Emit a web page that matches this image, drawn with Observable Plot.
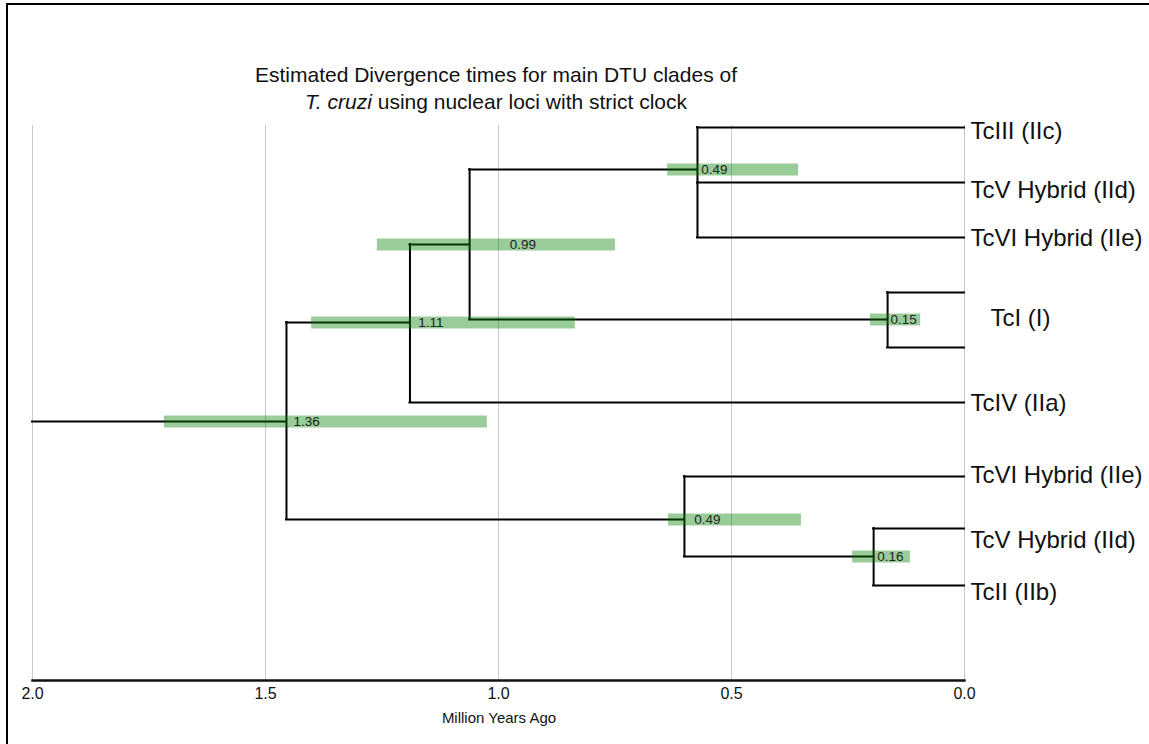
<!DOCTYPE html>
<html><head><meta charset="utf-8">
<script src="https://cdn.jsdelivr.net/npm/d3@7"></script>
<script src="https://cdn.jsdelivr.net/npm/@observablehq/plot@0.6"></script>
<style>
html,body{margin:0;padding:0;background:#fff;}
#wrap{position:relative;width:1149px;height:744px;overflow:hidden;font-family:"Liberation Sans",Arial,sans-serif;}
#chart{position:absolute;left:0;top:0;}
#border{position:absolute;left:6px;top:3px;width:1200px;height:800px;border-left:2px solid #000;border-top:2px solid #000;pointer-events:none;}
#title{position:absolute;left:0;width:992px;top:61px;text-align:center;font-size:21px;line-height:27px;color:#111;}
#xlabel{position:absolute;left:0;width:998px;top:709px;text-align:center;font-size:15px;color:#111;}
</style></head><body>
<div id="wrap">
<div id="chart"></div>
<div id="border"></div>
<div id="title">Estimated Divergence times for main DTU clades of<br><i>T. cruzi</i> using nuclear loci with strict clock</div>
<div id="xlabel">Million Years Ago</div>
</div>
<script>
// ---- data ----
const xTicks = [2.0, 1.5, 1.0, 0.5, 0.0];
const rootOrigin = 2.0;

// internal nodes
const nodeIds     = ["root", "n111", "n099", "n049a", "n015", "n049b", "n016"];
const nodeParent  = [null,   "root", "n111", "n099",  "n099", "root",  "n049b"];
const nodeAge     = [1.455,  1.19,   1.062,  0.573,   0.165,  0.601,   0.195];
const nodeRow     = [5.345,  3.545,  2.127,  0.764,   3.49,   7.127,   7.8];
const nodeLabel   = ["1.36", "1.11", "0.99", "0.49",  "0.15", "0.49",  "0.16"];
const hpdOld      = [1.717,  1.401,  1.26,   0.637,   0.202,  0.635,   0.240];
const hpdYoung    = [1.024,  0.835,  0.749,  0.356,   0.094,  0.35,    0.116];
const labelAge    = [1.44,   1.172,  0.976,  0.565,   0.159,  0.58,    0.187];

// tips
const tipIds    = ["TcIII", "TcV_a", "TcVI_a", "TcI_a", "TcI_b", "TcIV", "TcVI_b", "TcV_b", "TcII"];
const tipParent = ["n049a", "n049a", "n049a",  "n015",  "n015",  "n111", "n049b",  "n016",  "n016"];
const tipAge    = [0, 0, 0, 0, 0, 0, 0, 0, 0];
const tipRow    = [0, 1, 2, 3, 4, 5, 6.345, 7.29, 8.327];

// tip labels
const tipLabelText = ["TcIII (IIc)", "TcV Hybrid (IId)", "TcVI Hybrid (IIe)", "TcIV (IIa)", "TcVI Hybrid (IIe)", "TcV Hybrid (IId)", "TcII (IIb)"];
const tipLabelRow  = [0.07, 1.15, 2.02, 5.02, 6.33, 7.5, 8.45];
const tipLabelAge  = [0, 0, 0, 0, 0, 0, 0];
const cladeLabelText = ["TcI (I)"];
const cladeLabelRow  = [3.47];
const cladeLabelAge  = [0];

// ---- build tables ----
const nodes = nodeIds.map((id, i) => ({id, parent: nodeParent[i], age: nodeAge[i], row: nodeRow[i],
  label: nodeLabel[i], lo: hpdOld[i], hi: hpdYoung[i], labelAge: labelAge[i]}));
const tips = tipIds.map((id, i) => ({id, parent: tipParent[i], age: tipAge[i], row: tipRow[i]}));
const byId = new Map(nodes.map(d => [d.id, d]));
const all = [...nodes, ...tips];
const hBranches = all.map(d => ({row: d.row, x1: d.parent ? byId.get(d.parent).age : rootOrigin, x2: d.age}));
const vBranches = nodes.map(n => {
  const kids = all.filter(d => d.parent === n.id);
  return {age: n.age, y1: d3.min(kids, k => k.row), y2: d3.max(kids, k => k.row)};
});
const tipLabels = tipLabelText.map((t, i) => ({text: t, row: tipLabelRow[i], age: tipLabelAge[i]}));
const cladeLabels = cladeLabelText.map((t, i) => ({text: t, row: cladeLabelRow[i], age: cladeLabelAge[i]}));

const chart = Plot.plot({
  width: 1149,
  height: 744,
  marginLeft: 32,
  marginRight: 185,
  marginTop: 125,
  marginBottom: 64,
  style: {fontFamily: "'Liberation Sans', Arial, sans-serif", background: "transparent", overflow: "visible"},
  x: {domain: [2, 0]},
  y: {domain: [0, 10], range: [127, 677], axis: null},
  marks: [
    Plot.gridX(xTicks, {stroke: "#c8c8c8", strokeOpacity: 1, strokeWidth: 1}),
    Plot.frame({anchor: "bottom", stroke: "#111", strokeWidth: 2.5}),
    Plot.axisX(xTicks, {tickFormat: d3.format(".1f"), tickSize: 0, tickPadding: 7, fontSize: 16, fill: "#111", label: null}),
    Plot.ruleY(hBranches, {y: "row", x1: "x1", x2: "x2", stroke: "#000", strokeWidth: 2, strokeLinecap: "square"}),
    Plot.ruleX(vBranches, {x: "age", y1: "y1", y2: "y2", stroke: "#000", strokeWidth: 2, strokeLinecap: "square"}),
    Plot.ruleY(nodes, {y: "row", x1: "lo", x2: "hi", stroke: "green", strokeOpacity: 0.4, strokeWidth: 12}),
    Plot.text(nodes, {x: "labelAge", y: "row", text: "label", textAnchor: "start", fontSize: 13.5, fill: "#222"}),
    Plot.text(tipLabels, {x: "age", y: "row", text: "text", textAnchor: "start", dx: 6, fontSize: 24, fill: "#111"}),
    Plot.text(cladeLabels, {x: "age", y: "row", text: "text", textAnchor: "start", dx: 26, fontSize: 24, fill: "#111"})
  ]
});
document.getElementById("chart").appendChild(chart);
</script>
</body></html>
